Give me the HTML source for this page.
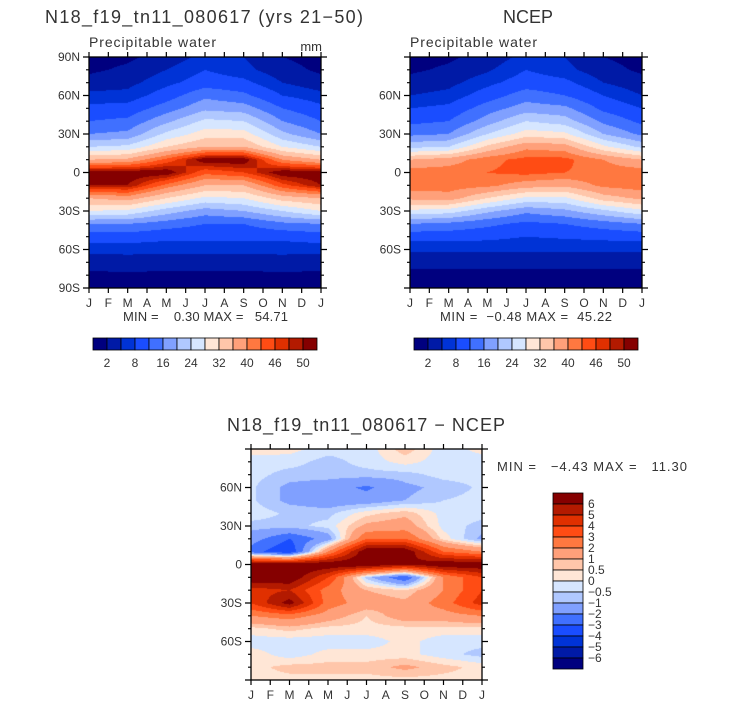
<!DOCTYPE html>
<html><head><meta charset="utf-8">
<style>
body{margin:0;background:#fff;width:733px;height:709px;overflow:hidden;font-family:"Liberation Sans",sans-serif;}
#wrap{position:relative;width:733px;height:709px;}
canvas{position:absolute;}
svg{position:absolute;left:0;top:0;}
text{white-space:pre;}
</style></head><body>
<div id="wrap">
<canvas id="c1" width="232" height="231" style="left:89px;top:57px"></canvas>
<canvas id="c2" width="232" height="231" style="left:410px;top:57px"></canvas>
<canvas id="c3" width="231" height="231" style="left:251px;top:449px"></canvas>
<svg id="ov" width="733" height="709"></svg>
</div>
<script>
// Data grids: columns = months Jan,Mar,May,Jul,Sep,Nov,Jan ; rows = lat 90N..90S every 10 deg
const monthCols = [0, 2, 4, 6, 8, 10, 12];
const latRows = [90,80,70,60,50,40,30,20,10,0,-10,-20,-30,-40,-50,-60,-70,-80,-90];
const modelJan = [1,1.5,3,6,9,12,16,24,36,52,50,36,28,16,10,6,3,1.5,0.5];
const modelMar = [1.5,2.5,4,6,9.5,13,17,25,37,52,50,38,27,16,10,6,3.5,1.5,0.5];
const modelMay = [3,5,7,10,14,19,25,32,44,52,42,32,22,14,9,6,3,1.5,0.5];
const modelJul = [6,8,10,15,19,25,30,36,52,44,36,27,18,12,9,6,3,1.5,1];
const modelSep = [5,6,9,13,18,24,30,36,52,46,36,28,20,12,9,6,3,1.5,0.5];
const modelNov = [2,3,5,8,12,16,21,28,40,52,45,34,24,15,9,6,3.5,1.5,0.5];
const ncepJan = [1,1.5,3,5,8,11,15,23,36,42,42,37,27,16,9.5,5.5,3,1,0.5];
const ncepMar = [1.5,2.5,4,6,9,12,16,24,38,42,42,38,26,15,9.5,5.5,3,1,0.5];
const ncepMay = [3,4.5,7,10,14,18,24,33,42,43,41,32,21,13,9,5.5,3,1,0.5];
const ncepJul = [6,8,10,14,18,24,30,39,44,44,38,27,17,11,8,5.5,3,1,0.5];
const ncepSep = [5,6,9,12,17,22,29,38,44,43,37,27,19,12,8.5,5.5,3,1,0.5];
const ncepNov = [2,3,5,8,11,15,20,29,40,42,41,34,23,14,9,5.5,3,1,0.5];
const diffJan = [0.3,-0.3,-0.3,-0.4,-0.4,-0.2,-0.7,-1.5,-2.5,7,7,4.5,4,2,0.3,-0.3,0.3,0.3,0.3];
const diffMar = [0.2,-0.3,-0.7,-1.2,-1.2,-0.6,-0.7,-3,-4,7,7,5,6.5,2.5,0.7,-0.3,-0.3,0.7,0.3];
const diffMay = [-0.3,-0.7,-0.7,-1.5,-1.5,-0.7,-0.3,-1.5,2,7,4,2.5,2.5,1.5,0.3,-0.3,0.2,0.7,0.3];
const diffJul = [-0.3,-0.3,-0.7,-2.2,-1.5,0.3,1.2,3,7,7,-0.7,1,1.5,0.5,0.3,-0.3,0.2,0.7,0.3];
const diffSep = [0.8,0.2,-0.7,-1.2,-1,0.8,1.5,3,7,6,-3,0.5,1.2,1.5,0.3,0.2,0.2,1.2,0.3];
const diffNov = [-0.3,-0.3,-0.3,-0.8,-0.5,-0.2,-0.2,0.3,3,7,2,2,2.5,1.5,0.3,-0.3,-0.3,0.7,0.3];
const diffJanEnd = [0.2,-0.3,-0.3,-0.4,-0.3,-0.3,-0.7,-1.2,2,7,4,4,4.5,2,0.3,-0.3,-0.7,0.3,0.3];
const pwLevels = [2,5,8,12,16,20,24,28,32,36,40,43,46,48,50];
const pwLabels = ["2","8","16","24","32","40","46","50"];
const diffLevels = [-6,-5,-4,-3,-2,-1,-0.5,0,0.5,1,2,3,4,5,6];
const diffLabels = ["6","5","4","3","2","1","0.5","0","\u22120.5","\u22121","\u22122","\u22123","\u22124","\u22125","\u22126"];
const months = ["J","F","M","A","M","J","J","A","S","O","N","D","J"];
const colors = ["#00007f","#001aa6","#0033d6","#1a4dff","#4070ff","#80a0ff","#b0c8ff","#d6e6ff",
                "#ffe6d6","#ffc6aa","#ffa07a","#ff7840","#ff4c14","#e03000","#b31a00","#850000"];

const modelGrid = [modelJan,modelMar,modelMay,modelJul,modelSep,modelNov,modelJan];
const ncepGrid = [ncepJan,ncepMar,ncepMay,ncepJul,ncepSep,ncepNov,ncepJan];
const diffGrid = [diffJan,diffMar,diffMay,diffJul,diffSep,diffNov,diffJanEnd];

function sample(grid, m, lat){
  let ci = 0; while(ci < monthCols.length-2 && m > monthCols[ci+1]) ci++;
  const tx = Math.min(1,Math.max(0,(m-monthCols[ci])/(monthCols[ci+1]-monthCols[ci])));
  let ri = 0; while(ri < latRows.length-2 && lat < latRows[ri+1]) ri++;
  const ty = Math.min(1,Math.max(0,(latRows[ri]-lat)/(latRows[ri]-latRows[ri+1])));
  const a=grid[ci][ri], b=grid[ci+1][ri], c=grid[ci][ri+1], d=grid[ci+1][ri+1];
  return (a*(1-tx)+b*tx)*(1-ty)+(c*(1-tx)+d*tx)*ty;
}
function classify(v, levels){ let k=0; while(k<levels.length && v>=levels[k]) k++; return k; }
function hex(h){return [parseInt(h.substr(1,2),16),parseInt(h.substr(3,2),16),parseInt(h.substr(5,2),16)];}
const rgb = colors.map(hex);
function paint(id, grid, levels){
  const cv=document.getElementById(id), ctx=cv.getContext('2d');
  const W=cv.width,H=cv.height, img=ctx.createImageData(W,H);
  for(let y=0;y<H;y++){ const lat=90-(y+0.5)/H*180;
    for(let x=0;x<W;x++){ const m=(x+0.5)/W*12;
      const c=rgb[classify(sample(grid,m,lat),levels)]; const i=(y*W+x)*4;
      img.data[i]=c[0];img.data[i+1]=c[1];img.data[i+2]=c[2];img.data[i+3]=255;}}
  ctx.putImageData(img,0,0);
}
paint('c1',modelGrid,pwLevels);
paint('c2',ncepGrid,pwLevels);
paint('c3',diffGrid,diffLevels);

const svg=document.getElementById('ov'), NS="http://www.w3.org/2000/svg";
function mk(tag, attrs, name, text){
  const e=document.createElementNS(NS,tag);
  for(const k in attrs) e.setAttribute(k,attrs[k]);
  
  
  if(text!==undefined) e.textContent=text;
  svg.appendChild(e); return e;
}
function txt(x,y,s,size,anchor,name,len){
  const a={x:x,y:y,'font-size':size,'text-anchor':anchor||'start',fill:'#333','font-family':'Liberation Sans, sans-serif'};
  if(len){a.textLength=len;a.lengthAdjust='spacing';}
  return mk('text',a,name,s);
}
function axes(L,T,W,H,latLabels,prefix){
  mk('rect',{x:L,y:T,width:W,height:H,fill:'none',stroke:'#000','stroke-width':1.3},prefix+'-frame');
  let d='';
  for(let i=0;i<=12;i++){const x=L+W*i/12; d+=`M${x},${T}v-5M${x},${T+H}v5`;}
  for(let lat=-90;lat<=90;lat+=10){const y=T+(90-lat)/180*H; const len=(lat%30===0)?6:3;
    d+=`M${L},${y}h-${len}M${L+W},${y}h${len}`;}
  mk('path',{d:d,stroke:'#000','stroke-width':1.2,fill:'none'},prefix+'-ticks');
  months.forEach((m,i)=>txt(L+W*i/12,T+H+19,m,12,'middle',prefix+'-month-label'));
  latLabels.forEach(l=>{const lat=l==='0'?0:parseInt(l)*(l.endsWith('S')?-1:1);
    txt(L-9,T+(90-lat)/180*H+4,l,12,'end',prefix+'-lat-label');});
}
function hbar(x0,y0,prefix){
  colors.forEach((c,i)=>mk('rect',{x:x0+i*14,y:y0,width:14,height:12,fill:c,stroke:'#000','stroke-width':0.8},prefix+'-colorbar-box'));
  pwLabels.forEach((l,i)=>txt(x0+14*(2*i+1),y0+29,l,12,'middle',prefix+'-colorbar-label'));
}
// top left
txt(45,23,"N18_f19_tn11_080617 (yrs 21\u221250)",18,'start','model-title',318);
txt(89,47,"Precipitable water",14,'start','model-variable-label',127);
txt(322,51,"mm",13,'end','model-units-label');
axes(89,57,232,231,["90N","60N","30N","0","30S","60S","90S"],'model');
txt(123,321,"MIN =    0.30 MAX =   54.71",13,'start','model-min-max',165);
hbar(93,338,'model');
// top right
txt(528,23,"NCEP",18,'middle','ncep-title');
txt(410,47,"Precipitable water",14,'start','ncep-variable-label',127);
axes(410,57,232,231,["60N","30N","0","30S","60S"],'ncep');
txt(440,321,"MIN =  \u22120.48 MAX =  45.22",13,'start','ncep-min-max',172);
hbar(414,338,'ncep');
// bottom
txt(227,431,"N18_f19_tn11_080617 \u2212 NCEP",18,'start','diff-title',278);
axes(251,449,231,231,["60N","30N","0","30S","60S"],'diff');
txt(497,471,"MIN =   \u22124.43 MAX =   11.30",13,'start','diff-min-max',190);
colors.slice().reverse().forEach((c,i)=>mk('rect',{x:553,y:493+i*11,width:30,height:11,fill:c,stroke:'#000','stroke-width':0.8},'diff-colorbar-box'));
diffLabels.forEach((l,i)=>txt(588,493+11*(i+1)+4,l,12,'start','diff-colorbar-label'));
</script>
</body></html>
